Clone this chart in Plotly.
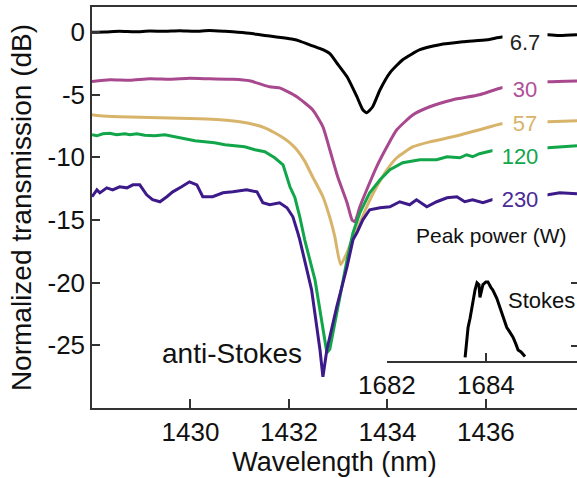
import plotly.graph_objects as go

# ---- data ----
x_black = [1428.0, 1428.26, 1428.56, 1428.87, 1429.17, 1429.48, 1429.78, 1430.09, 1430.39, 1430.70,
           1430.86, 1431.20, 1431.41, 1431.61, 1431.88, 1432.08, 1432.22, 1432.48, 1432.69, 1432.83,
           1432.97, 1433.18, 1433.38, 1433.50, 1433.58, 1433.70, 1433.85, 1434.05, 1434.31, 1434.66,
           1435.06, 1435.53, 1436.02, 1436.32, 1436.69, 1437.26, 1437.50, 1437.85]
y_black = [-0.02, 0.0, 0.06, 0.02, 0.08, 0.06, 0.10, 0.06, 0.12, 0.06,
           0.02, -0.10, -0.22, -0.32, -0.46, -0.58, -0.72, -1.10, -1.41, -1.73,
           -2.45, -3.57, -5.16, -6.20, -6.44, -5.96, -4.60, -3.25, -2.21, -1.41,
           -1.01, -0.78, -0.62, -0.40, -0.32, -0.22, -0.28, -0.22]

x_30 = [1428.0, 1428.36, 1428.77, 1429.17, 1429.58, 1429.98, 1430.39, 1430.86, 1431.20, 1431.41,
        1431.61, 1431.81, 1432.16, 1432.48, 1432.69, 1432.83, 1432.99, 1433.18, 1433.28, 1433.34,
        1433.44, 1433.58, 1433.78, 1433.99, 1434.19, 1434.52, 1434.86, 1435.33, 1435.87, 1436.32,
        1437.26, 1437.85]
y_30 = [-3.94, -3.81, -3.85, -3.73, -3.77, -3.69, -3.73, -3.77, -3.89, -4.13,
        -4.37, -4.45, -5.16, -6.20, -7.56, -9.39, -11.55, -13.62, -14.98, -15.14,
        -13.94, -12.58, -10.75, -9.15, -7.80, -6.60, -5.96, -5.40, -5.00, -4.45,
        -3.97, -3.90]

x_57 = [1428.0, 1428.16, 1428.56, 1428.97, 1429.38, 1429.78, 1430.19, 1430.60, 1431.00, 1431.31,
        1431.51, 1431.71, 1431.88, 1432.02, 1432.16, 1432.32, 1432.48, 1432.69, 1432.83, 1432.93,
        1433.05, 1433.18, 1433.28, 1433.38, 1433.58, 1433.78, 1433.99, 1434.19, 1434.52, 1434.86,
        1435.33, 1435.87, 1436.32, 1437.26, 1437.85]
y_57 = [-6.60, -6.68, -6.76, -6.80, -6.84, -6.88, -6.92, -7.00, -7.16, -7.40,
        -7.64, -8.04, -8.44, -8.84, -9.39, -10.30, -11.55, -13.14, -14.80, -16.30,
        -18.57, -17.60, -16.58, -15.80, -13.94, -12.35, -10.99, -10.03, -9.15, -8.76,
        -8.36, -7.80, -7.32, -7.16, -7.08]

x_120 = [1428.0, 1428.10, 1428.22, 1428.36, 1428.50, 1428.67, 1428.77, 1428.91, 1429.07, 1429.27,
         1429.48, 1429.68, 1429.88, 1430.09, 1430.29, 1430.49, 1430.70, 1430.90, 1431.10, 1431.31,
         1431.51, 1431.71, 1431.88, 1432.02, 1432.12, 1432.22, 1432.32, 1432.53, 1432.77, 1432.83,
         1432.99, 1433.18, 1433.30, 1433.44, 1433.64, 1433.85, 1434.05, 1434.31, 1434.66, 1435.00,
         1435.21, 1435.47, 1435.61, 1435.73, 1435.87, 1436.12, 1437.26, 1437.50, 1437.85]
y_120 = [-8.20, -8.28, -8.12, -8.08, -8.20, -8.12, -8.20, -8.12, -8.24, -8.28,
         -8.20, -8.36, -8.52, -8.68, -8.76, -8.84, -8.99, -9.07, -9.15, -9.39,
         -9.55, -10.03, -10.59, -12.35, -13.20, -14.74, -16.58, -19.80, -25.59, -25.30,
         -21.92, -18.17, -16.02, -14.42, -12.82, -11.79, -10.99, -10.43, -10.19, -10.19,
         -9.95, -10.03, -9.79, -9.95, -9.71, -9.47, -9.23, -9.15, -9.07]

x_230 = [1428.0, 1428.10, 1428.16, 1428.30, 1428.42, 1428.56, 1428.71, 1428.83, 1428.97, 1429.11,
         1429.23, 1429.38, 1429.52, 1429.64, 1429.82, 1429.98, 1430.13, 1430.25, 1430.45, 1430.66,
         1430.86, 1431.14, 1431.35, 1431.47, 1431.61, 1431.81, 1431.96, 1432.08, 1432.18, 1432.22,
         1432.46, 1432.63, 1432.69, 1432.77, 1432.97, 1433.18, 1433.30, 1433.38, 1433.50, 1433.64,
         1433.85, 1434.05, 1434.25, 1434.45, 1434.59, 1434.80, 1435.00, 1435.21, 1435.41, 1435.57,
         1435.73, 1435.94, 1436.12, 1437.26, 1437.50, 1437.85]
y_230 = [-13.14, -12.59, -12.83, -12.43, -12.59, -12.35, -12.43, -12.19, -12.19, -12.99,
         -13.38, -13.54, -13.14, -12.75, -12.35, -11.95, -12.19, -13.14, -13.14, -12.83,
         -12.75, -12.59, -12.75, -13.62, -13.78, -13.62, -14.02, -14.74, -16.02, -16.58,
         -20.57, -25.35, -27.51, -25.35, -21.92, -18.73, -16.58, -16.02, -14.98, -14.18,
         -14.02, -13.94, -13.54, -13.78, -13.38, -13.94, -13.54, -13.22, -13.14, -13.54,
         -13.38, -13.62, -13.38, -12.99, -12.83, -12.90]

# inset: Stokes spectrum (normalized, arbitrary units)
x_stokes = [1683.58, 1683.60, 1683.64, 1683.68, 1683.74, 1683.78, 1683.82, 1683.86, 1683.88, 1683.92,
            1683.94, 1684.00, 1684.04, 1684.10, 1684.14, 1684.22, 1684.28, 1684.36, 1684.42, 1684.48,
            1684.55, 1684.61, 1684.65, 1684.71, 1684.75, 1684.79]
y_stokes = [0.04, 0.18, 0.37, 0.47, 0.67, 0.78, 0.86, 0.84, 0.70, 0.78,
            0.84, 0.87, 0.87, 0.81, 0.78, 0.69, 0.59, 0.47, 0.37, 0.32,
            0.26, 0.18, 0.12, 0.10, 0.07, 0.05]

power_labels = ["6.7", "30", "57", "120", "230"]
label_y = [-0.84, -4.6, -7.3, -9.9, -13.4]
main_xticks = [1430, 1432, 1434, 1436]
main_yticks = [0, -5, -10, -15, -20, -25]
main_yticktext = ["0", "-5", "-10", "-15", "-20", "-25"]
inset_xticks = [1682, 1684]
inset_yticks = [0.165, 0.857]

colors = ["#000000", "#A8488E", "#D8B46A", "#12A64A", "#3D1A8A"]
label_colors = ["#222222", "#B0509A", "#D8B46A", "#12A64A", "#4A2A95"]
smooth = [True, True, True, False, False]
series = [(x_black, y_black), (x_30, y_30), (x_57, y_57), (x_120, y_120), (x_230, y_230)]

FONT = "Liberation Sans, Arial, sans-serif"

fig = go.Figure()
for (xs, ys), c, sm in zip(series, colors, smooth):
    line = dict(color=c, width=3)
    if sm:
        line.update(shape="spline", smoothing=0.5)
    fig.add_trace(go.Scatter(x=xs, y=ys, mode="lines", line=line,
                             showlegend=False, hoverinfo="skip", xaxis="x", yaxis="y"))

fig.add_trace(go.Scatter(x=x_stokes, y=y_stokes, mode="lines", line=dict(color="#000000", width=3),
                         showlegend=False, hoverinfo="skip", xaxis="x2", yaxis="y2"))

axis_line = "#333333"
fig.update_layout(
    width=577, height=478,
    margin=dict(l=92, r=0, t=7, b=70, pad=0, autoexpand=False),
    paper_bgcolor="white", plot_bgcolor="white",
    font=dict(family=FONT, color="#111111"),
    xaxis=dict(domain=[0, 1], range=[1428.0, 1437.85], tickvals=main_xticks,
               ticks="inside", ticklen=9, tickwidth=1.5, tickcolor=axis_line,
               showline=True, linecolor=axis_line, linewidth=1.5, mirror=True,
               showgrid=False, zeroline=False, tickfont=dict(size=26),
               ticklabelstandoff=0,
               title=dict(text="Wavelength (nm)", font=dict(size=27), standoff=0)),
    yaxis=dict(domain=[0, 1], range=[-30, 2], tickvals=main_yticks, ticktext=main_yticktext,
               ticks="inside", ticklen=8, tickwidth=1.5, tickcolor=axis_line,
               showline=True, linecolor=axis_line, linewidth=1.5, mirror=False,
               showgrid=False, zeroline=False, tickfont=dict(size=26),
               ticklabelstandoff=0,
               title=dict(text="Normalized transmission (dB)", font=dict(size=28), standoff=8)),
    xaxis2=dict(domain=[0.608, 1.0], range=[1682.0, 1685.84], anchor="y2", tickvals=inset_xticks,
                ticks="inside", ticklen=8, tickwidth=1.5, tickcolor=axis_line,
                showline=True, linecolor=axis_line, linewidth=1.5,
                showgrid=False, zeroline=False, tickfont=dict(size=26), ticklabelstandoff=0),
    yaxis2=dict(domain=[0.1172, 0.344], range=[0, 1], anchor="x2", side="right",
                tickvals=inset_yticks, ticks="inside", ticklen=6, tickwidth=1.5, tickcolor=axis_line,
                showline=False, showticklabels=False, showgrid=False, zeroline=False),
)

annotations = []
for i, (txt, yv, col) in enumerate(zip(power_labels, label_y, label_colors)):
    wide = len(txt) == 3 and "." not in txt
    annotations.append(dict(x=1436.69 if wide else 1436.79, y=yv, xref="x", yref="y",
                            text=txt, showarrow=False, font=dict(size=22, color=col),
                            bgcolor="white", width=54 if wide else 44, align="center",
                            xanchor="center", yanchor="middle", borderpad=0))
annotations.append(dict(x=0.823, y=0.431, xref="paper", yref="paper", text="Peak power (W)",
                        showarrow=False, font=dict(size=21, color="#111111"),
                        xanchor="center", yanchor="middle"))
annotations.append(dict(x=0.289, y=0.135, xref="paper", yref="paper", text="anti-Stokes",
                        showarrow=False, font=dict(size=28, color="#111111"),
                        xanchor="center", yanchor="middle"))
annotations.append(dict(x=0.926, y=0.269, xref="paper", yref="paper", text="Stokes",
                        showarrow=False, font=dict(size=22, color="#111111"),
                        xanchor="center", yanchor="middle"))
fig.update_layout(annotations=annotations)

fig.write_html("out.html", config={"displayModeBar": False},
               post_script="document.body.style.margin='0px';")
